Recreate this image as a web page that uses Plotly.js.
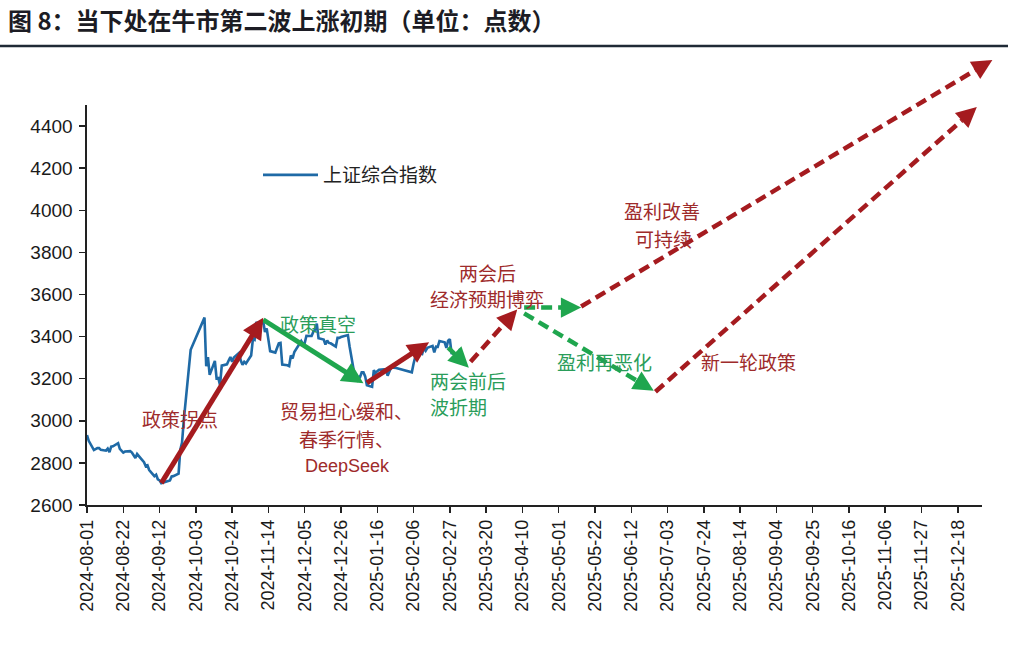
<!DOCTYPE html>
<html><head><meta charset="utf-8">
<script src="https://cdn.plot.ly/plotly-3.0.1.min.js"></script>
<style>html,body{margin:0;padding:0;background:#fff}</style>
</head><body><div id="chart" style="width:1020px;height:663px"></div>
<script>
// ---- data: 上证综合指数 (daily close) ----
const dates = ['2024-08-01','2024-08-02','2024-08-05','2024-08-06','2024-08-07','2024-08-08','2024-08-09','2024-08-12','2024-08-13','2024-08-14','2024-08-15','2024-08-16','2024-08-19','2024-08-20','2024-08-21','2024-08-22','2024-08-23','2024-08-26','2024-08-27','2024-08-28','2024-08-29','2024-08-30',
'2024-09-02','2024-09-03','2024-09-04','2024-09-05','2024-09-06','2024-09-09','2024-09-10','2024-09-11','2024-09-12','2024-09-13','2024-09-18','2024-09-19','2024-09-20','2024-09-23','2024-09-24','2024-09-25','2024-09-26','2024-09-27','2024-09-30',
'2024-10-08','2024-10-09','2024-10-10','2024-10-11','2024-10-14','2024-10-15','2024-10-16','2024-10-17','2024-10-18','2024-10-21','2024-10-22','2024-10-23','2024-10-24','2024-10-25','2024-10-28','2024-10-29','2024-10-30','2024-10-31',
'2024-11-01','2024-11-04','2024-11-05','2024-11-06','2024-11-07','2024-11-08','2024-11-11','2024-11-12','2024-11-13','2024-11-14','2024-11-15','2024-11-18','2024-11-19','2024-11-20','2024-11-21','2024-11-22','2024-11-25','2024-11-26','2024-11-27','2024-11-28','2024-11-29',
'2024-12-02','2024-12-03','2024-12-04','2024-12-05','2024-12-06','2024-12-09','2024-12-10','2024-12-11','2024-12-12','2024-12-13','2024-12-16','2024-12-17','2024-12-18','2024-12-19','2024-12-20','2024-12-23','2024-12-24','2024-12-25','2024-12-26','2024-12-27','2024-12-30','2024-12-31',
'2025-01-02','2025-01-03','2025-01-06','2025-01-07','2025-01-08','2025-01-09','2025-01-10','2025-01-13','2025-01-14','2025-01-15','2025-01-16','2025-01-17','2025-01-20','2025-01-21','2025-01-22','2025-01-23','2025-01-24','2025-01-27',
'2025-02-05','2025-02-06','2025-02-07','2025-02-10','2025-02-11','2025-02-12','2025-02-13','2025-02-14','2025-02-17','2025-02-18','2025-02-19','2025-02-20','2025-02-21','2025-02-24','2025-02-25','2025-02-26','2025-02-27','2025-02-28',
'2025-03-03','2025-03-04','2025-03-05'];
const closes = [2932,2905,2861,2867,2870,2870,2862,2858,2868,2851,2877,2879,2894,2867,2857,2849,2854,2856,2849,2837,2823,2842,
2811,2803,2784,2788,2766,2737,2744,2722,2717,2704,2717,2736,2737,2749,2863,2896,3001,3088,3337,
3490,3259,3302,3218,3284,3201,3203,3169,3262,3268,3286,3303,3280,3300,3322,3286,3266,3280,
3272,3310,3387,3384,3470,3452,3471,3422,3439,3380,3331,3324,3346,3368,3370,3267,3264,3260,3310,3296,3327,
3364,3379,3365,3369,3404,3403,3423,3433,3462,3392,3386,3362,3382,3370,3368,3352,3394,3394,3398,3400,3407,3352,
3263,3211,3207,3230,3230,3211,3169,3161,3241,3227,3236,3242,3244,3243,3214,3230,3253,3251,
3230,3271,3304,3322,3318,3346,3333,3347,3356,3325,3352,3351,3379,3373,3346,3380,3388,3321,
3317,3324,3342];

const xTickVals = ['2024-08-01','2024-08-22','2024-09-12','2024-10-03','2024-10-24','2024-11-14','2024-12-05','2024-12-26','2025-01-16','2025-02-06','2025-02-27','2025-03-20','2025-04-10','2025-05-01','2025-05-22','2025-06-12','2025-07-03','2025-07-24','2025-08-14','2025-09-04','2025-09-25','2025-10-16','2025-11-06','2025-11-27','2025-12-18'];
const yTickVals = [2600,2800,3000,3200,3400,3600,3800,4000,4200,4400];

// ---- scenario arrows (date, index level) ----
const arrowStartDates  = ['2024-09-13','2024-11-11','2025-01-10','2025-02-26','2025-03-11','2025-04-11','2025-04-11','2025-05-14','2025-06-26'];
const arrowStartValues = [2704,3480,3180,3348,3281,3538,3510,3543,3138];
const arrowEndDates    = ['2024-11-11','2025-01-08','2025-02-15','2025-03-10','2025-04-07','2025-05-14','2025-06-25','2026-01-07','2025-12-29'];
const arrowEndValues   = [3490,3178,3373,3252,3529,3538,3143,4714,4490];
const arrowIsUp        = [true,false,true,false,true,false,false,true,true];
const arrowIsDashed    = [false,false,false,true,true,true,true,true,true];

// ---- layout geometry ----
const W = 1020, H = 663;
const PX = {left:87, right:982, bottom:505, top:105};
const X0 = Date.parse('2024-08-01'), X1 = Date.parse('2026-01-01');
const Y0 = 2600, Y1 = 4500;
const RED = '#a51b1f', GREEN = '#1fa64e', BLUE = '#1f6aa6';
const RED_T = '#9e2b2b', GREEN_T = '#2a9d5a';

const xDom = [PX.left/W, PX.right/W];
const yDom = [1 - PX.bottom/H, 1 - PX.top/H];
const kx = (X1-X0)/(PX.right-PX.left);
const ky = (Y1-Y0)/(PX.bottom-PX.top);
const x2Range = [X0 - PX.left*kx, X1 + (W-PX.right)*kx];
const y2Range = [Y0 - (H-PX.bottom)*ky, Y1 + PX.top*ky];

function toPx(ms, v){ return [PX.left + (ms-X0)/kx, PX.bottom - (v-Y0)/ky]; }
function msStr(ms){ return new Date(ms).toISOString().replace('T',' ').replace('Z',''); }

const traces = [{
  type:'scatter', mode:'lines', x:dates, y:closes, name:'上证综合指数',
  xaxis:'x', yaxis:'y', line:{color:BLUE, width:2.6}, hoverinfo:'x+y'
}];
const annotations = [];
const HEAD = 20;
for (let i=0;i<arrowStartDates.length;i++){
  const s = Date.parse(arrowStartDates[i]), e = Date.parse(arrowEndDates[i]);
  const [sx,sy] = toPx(s, arrowStartValues[i]);
  const [ex,ey] = toPx(e, arrowEndValues[i]);
  const len = Math.hypot(ex-sx, ey-sy);
  const f = 1 - HEAD/len;
  const tailMs = s + f*(e-s), tailV = arrowStartValues[i] + f*(arrowEndValues[i]-arrowStartValues[i]);
  const col = arrowIsUp[i] ? RED : GREEN;
  const w = arrowIsDashed[i] ? 4.5 : 5;
  traces.push({type:'scatter', mode:'lines', xaxis:'x2', yaxis:'y2', showlegend:false, hoverinfo:'skip',
    x:[arrowStartDates[i], msStr(tailMs)], y:[arrowStartValues[i], tailV],
    line:{color:col, width:w, dash: arrowIsDashed[i] ? '11px,6px' : 'solid'}});
  annotations.push({xref:'x2', yref:'y2', x:arrowEndDates[i], y:arrowEndValues[i], text:'',
    showarrow:true, arrowhead:2, arrowsize: arrowIsDashed[i]?0.9:0.85, arrowwidth:w, arrowcolor:col, standoff:0,
    axref:'pixel', ayref:'pixel', ax:(sx-ex)/len*(HEAD+2), ay:(sy-ey)/len*(HEAD+2)});
}

// ---- text labels ----
const CJK = '"Noto Sans CJK SC", "Noto Sans", sans-serif';
function label(text, px, py, color, anchor, size, fam){
  annotations.push({xref:'paper', yref:'paper', x:px/W, y:1-py/H, text:text, showarrow:false,
    xanchor:anchor||'center', yanchor:'middle', font:{family:fam||CJK, size:size||19, color:color}});
}
label('政策拐点', 180, 418, RED_T);
label('政策真空', 318, 323, GREEN_T);
label('贸易担心缓和、', 346, 410, RED_T);
label('春季行情、', 346, 438, RED_T);
label('DeepSeek', 347, 466, RED_T, 'center', 18, '"Liberation Sans", Arial, sans-serif');
label('两会前后', 428, 380, GREEN_T, 'left');
label('波折期', 428, 406, GREEN_T, 'left');
label('两会后', 487, 272, RED_T);
label('经济预期博弈', 487, 299, RED_T);
label('盈利改善', 662, 210, RED_T);
label('可持续', 663, 238, RED_T);
label('盈利再恶化', 604, 362, GREEN_T);
label('新一轮政策', 748, 362, RED_T);

const tickFont = {family:'"Liberation Sans", Arial, sans-serif', size:19, color:'#1a1a1a'};
const layout = {
  width:W, height:H, margin:{l:0,r:0,t:0,b:0},
  paper_bgcolor:'#ffffff', plot_bgcolor:'rgba(0,0,0,0)',
  title:{text:'图 8：当下处在牛市第二波上涨初期（单位：点数）', x:8/W, xanchor:'left', xref:'paper',
    y:1-22/H, yref:'container', yanchor:'middle',
    font:{family:CJK, size:24, color:'#1c1c24', weight:'bold'}},
  showlegend:true,
  legend:{x:258/W, y:1-175/H, xanchor:'left', yanchor:'middle', bgcolor:'rgba(0,0,0,0)',
    font:{family:CJK, size:19, color:'#222'}, itemwidth:55},
  xaxis:{domain:xDom, type:'date', range:[X0, X1], anchor:'y',
    tickmode:'array', tickvals:xTickVals, ticktext:xTickVals, tickangle:-90,
    ticks:'outside', ticklen:6, tickwidth:1.5, tickcolor:'#222',
    showline:true, linecolor:'#222', linewidth:1.6, showgrid:false, zeroline:false,
    tickfont:{family:'"Liberation Sans", Arial, sans-serif', size:18, color:'#1a1a1a'}},
  yaxis:{domain:yDom, range:[Y0, Y1], anchor:'x',
    tickmode:'array', tickvals:yTickVals,
    ticks:'outside', ticklen:6, tickwidth:1.5, tickcolor:'#222', ticklabelstandoff:3,
    showline:true, linecolor:'#222', linewidth:1.6, showgrid:false, zeroline:false, tickfont:tickFont},
  xaxis2:{domain:[0,1], type:'date', range:x2Range, anchor:'y2', visible:false, fixedrange:true},
  yaxis2:{domain:[0,1], range:y2Range, anchor:'x2', visible:false, fixedrange:true},
  shapes:[{type:'line', xref:'paper', yref:'paper', x0:0, x1:1008/W, y0:1-46/H, y1:1-46/H,
    line:{color:'#1f2a36', width:2.5}}],
  annotations:annotations
};
Plotly.newPlot('chart', traces, layout, {displayModeBar:false, staticPlot:true});
</script></body></html>
